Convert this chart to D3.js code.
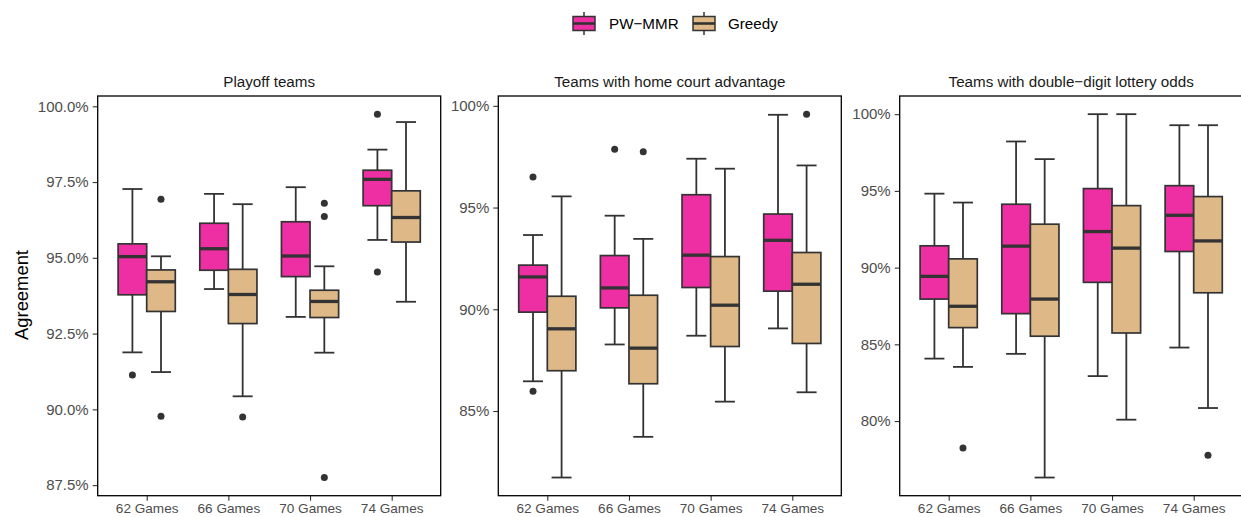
<!DOCTYPE html>
<html>
<head>
<meta charset="utf-8">
<script src="https://cdn.jsdelivr.net/npm/d3@7"></script>
<style>
  body { margin: 0; background: #fff; }
  svg { font-family: "Liberation Sans", Arial, sans-serif; display: block; }
</style>
</head>
<body>
<div id="chart"></div>
<script>
// box stats per category: [lower whisker, q1, median, q3, upper whisker]
const categories = ['62 Games', '66 Games', '70 Games', '74 Games'];
const seriesNames = ['PW\u2212MMR', 'Greedy'];
const seriesColors = ['#ee2ea3', '#deb887'];

// Playoff teams
const playoffPw = [
  [91.88, 93.78, 95.04, 95.46, 97.27],
  [93.97, 94.59, 95.30, 96.14, 97.11],
  [93.05, 94.38, 95.06, 96.19, 97.33],
  [95.59, 96.72, 97.59, 97.89, 98.57]
];
const playoffGreedy = [
  [91.23, 93.23, 94.21, 94.60, 95.05],
  [90.43, 92.83, 93.79, 94.62, 96.77],
  [91.87, 93.03, 93.56, 93.93, 94.72],
  [93.55, 95.52, 96.33, 97.21, 99.48]
];
const playoffPwOut = [[91.13], [], [], [99.74, 94.53]];
const playoffGreedyOut = [[96.93, 89.77], [89.75], [96.80, 96.36, 87.75], []];

// Teams with home court advantage
const homePw = [
  [86.46, 89.86, 91.59, 92.17, 93.65],
  [88.27, 90.07, 91.05, 92.64, 94.60],
  [88.70, 91.07, 92.66, 95.63, 97.40],
  [89.06, 90.89, 93.39, 94.68, 99.56]
];
const homeGreedy = [
  [81.73, 86.98, 89.04, 90.64, 95.55],
  [83.73, 86.34, 88.09, 90.69, 93.46],
  [85.46, 88.17, 90.20, 92.59, 96.91],
  [85.92, 88.32, 91.23, 92.79, 97.07]
];
const homePwOut = [[96.50, 85.97], [97.87], [], []];
const homeGreedyOut = [[], [97.74], [], [99.59]];

// Teams with double-digit lottery odds
const lotteryPw = [
  [84.07, 87.95, 89.43, 91.42, 94.82],
  [84.38, 87.00, 91.40, 94.13, 98.22],
  [82.93, 89.04, 92.35, 95.15, 100.0],
  [84.79, 91.05, 93.41, 95.34, 99.28]
];
const lotteryGreedy = [
  [83.53, 86.09, 87.48, 90.57, 94.24],
  [76.32, 85.53, 87.95, 92.83, 97.07],
  [80.09, 85.74, 91.27, 94.04, 100.0],
  [80.85, 88.36, 91.74, 94.63, 99.28]
];
const lotteryPwOut = [[], [], [], []];
const lotteryGreedyOut = [[78.25], [], [], [77.77]];

const panels = [
  { title: 'Playoff teams', boxes: [playoffPw, playoffGreedy], outs: [playoffPwOut, playoffGreedyOut],
    ticks: [87.5, 90, 92.5, 95, 97.5, 100], fmt: d => d.toFixed(1) + '%', left: 97.7 },
  { title: 'Teams with home court advantage', boxes: [homePw, homeGreedy], outs: [homePwOut, homeGreedyOut],
    ticks: [85, 90, 95, 100], fmt: d => d + '%', left: 498.3 },
  { title: 'Teams with double\u2212digit lottery odds', boxes: [lotteryPw, lotteryGreedy], outs: [lotteryPwOut, lotteryGreedyOut],
    ticks: [80, 85, 90, 95, 100], fmt: d => d + '%', left: 899.7 }
];

const svgWidth = 1241, svgHeight = 517;
const panelWidth = 343;
const plotTop = 96, plotBottom = 495.7;
const lineCol = '#333333';

const svg = d3.select('#chart').append('svg')
  .attr('width', svgWidth)
  .attr('height', svgHeight);

panels.forEach(p => {
  const all = [];
  p.boxes.forEach(s => s.forEach(b => all.push(b[0], b[4])));
  p.outs.forEach(s => s.forEach(o => o.forEach(v => all.push(v))));
  const [mn, mx] = d3.extent(all);
  const pad = (mx - mn) * 0.05;

  const x = d3.scalePoint().domain(categories)
    .range([p.left, p.left + panelWidth]).padding(0.6);
  const y = d3.scaleLinear().domain([mn - pad, mx + pad]).range([plotBottom, plotTop]);
  const step = x.step();
  const boxW = step * 0.35;
  const capW = boxW * 0.7;

  const g = svg.append('g');

  // panel title
  g.append('text')
    .attr('x', p.left + panelWidth / 2)
    .attr('y', 87.3)
    .attr('text-anchor', 'middle')
    .attr('font-size', 15.2)
    .attr('fill', '#1a1a1a')
    .text(p.title);

  // axes
  const yAxis = g.append('g')
    .attr('transform', `translate(${p.left},0)`)
    .call(d3.axisLeft(y).tickValues(p.ticks).tickFormat(p.fmt).tickSize(5).tickPadding(4));
  yAxis.select('.domain').remove();
  yAxis.selectAll('line').attr('stroke', lineCol).attr('stroke-width', 1.1);
  yAxis.selectAll('text').attr('font-size', 15).attr('fill', '#4d4d4d')
    .attr('font-family', '"Liberation Sans", Arial, sans-serif');

  const xAxis = g.append('g')
    .attr('transform', `translate(0,${plotBottom})`)
    .call(d3.axisBottom(x).tickSize(5).tickPadding(3));
  xAxis.select('.domain').remove();
  xAxis.selectAll('line').attr('stroke', lineCol).attr('stroke-width', 1.1);
  xAxis.selectAll('text').attr('font-size', 13.6).attr('fill', '#4d4d4d')
    .attr('font-family', '"Liberation Sans", Arial, sans-serif');

  // boxes
  p.boxes.forEach((series, si) => {
    const off = (si === 0 ? -1 : 1) * boxW / 2;
    series.forEach((b, ci) => {
      const cx = x(categories[ci]) + off;
      const bg = g.append('g');
      // whiskers
      bg.append('line').attr('x1', cx).attr('x2', cx).attr('y1', y(b[0])).attr('y2', y(b[1]))
        .attr('stroke', lineCol).attr('stroke-width', 1.8);
      bg.append('line').attr('x1', cx).attr('x2', cx).attr('y1', y(b[3])).attr('y2', y(b[4]))
        .attr('stroke', lineCol).attr('stroke-width', 1.8);
      [b[0], b[4]].forEach(v => {
        bg.append('line').attr('x1', cx - capW / 2).attr('x2', cx + capW / 2)
          .attr('y1', y(v)).attr('y2', y(v))
          .attr('stroke', lineCol).attr('stroke-width', 1.8);
      });
      bg.append('rect')
        .attr('x', cx - boxW / 2).attr('width', boxW)
        .attr('y', y(b[3])).attr('height', y(b[1]) - y(b[3]))
        .attr('fill', seriesColors[si])
        .attr('stroke', lineCol).attr('stroke-width', 1.7);
      bg.append('line').attr('x1', cx - boxW / 2).attr('x2', cx + boxW / 2)
        .attr('y1', y(b[2])).attr('y2', y(b[2]))
        .attr('stroke', lineCol).attr('stroke-width', 3.3);
      p.outs[si][ci].forEach(v => {
        bg.append('circle').attr('cx', cx).attr('cy', y(v)).attr('r', 3.5).attr('fill', lineCol);
      });
    });
  });

  // panel border
  g.append('rect')
    .attr('x', p.left).attr('y', plotTop)
    .attr('width', panelWidth).attr('height', plotBottom - plotTop)
    .attr('fill', 'none').attr('stroke', '#000').attr('stroke-width', 1.3);
});

// y axis title
svg.append('text')
  .attr('transform', 'translate(28,295) rotate(-90)')
  .attr('text-anchor', 'middle')
  .attr('font-size', 18.4)
  .attr('fill', '#000')
  .text('Agreement');

// legend
const legendX = [573, 693];
const legendLabelX = [609, 728];
seriesNames.forEach((name, i) => {
  const lg = svg.append('g');
  const cx = legendX[i] + 11;
  lg.append('line').attr('x1', cx).attr('x2', cx).attr('y1', 12).attr('y2', 35)
    .attr('stroke', lineCol).attr('stroke-width', 1.5);
  lg.append('rect').attr('x', legendX[i]).attr('y', 16.5).attr('width', 22).attr('height', 14)
    .attr('fill', seriesColors[i]).attr('stroke', lineCol).attr('stroke-width', 1.5);
  lg.append('line').attr('x1', legendX[i]).attr('x2', legendX[i] + 22).attr('y1', 23.5).attr('y2', 23.5)
    .attr('stroke', lineCol).attr('stroke-width', 2.6);
  lg.append('text').attr('x', legendLabelX[i]).attr('y', 28.5)
    .attr('font-size', 15.2).attr('fill', '#000').text(name);
});
</script>
</body>
</html>
